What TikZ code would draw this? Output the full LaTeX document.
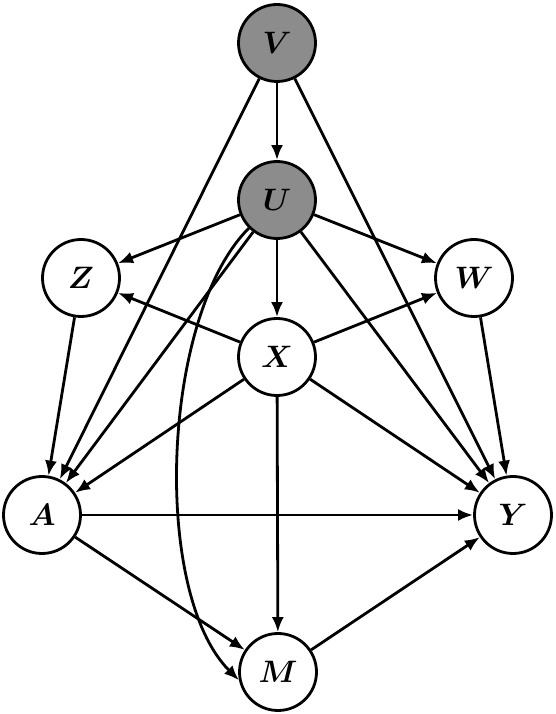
\documentclass[tikz,border=0pt]{standalone}
\usepackage{amsmath,bm}
\usepackage{graphicx}
\usetikzlibrary{arrows.meta}
\definecolor{latent}{RGB}{140,140,140}
\newcommand{\vlab}[1]{\scalebox{3.1}{$\bm{#1}$}}
\begin{document}
\begin{tikzpicture}[x=1pt,y=1pt,
  var/.style={circle,draw=black,line width=2.8pt,fill=white,minimum size=77pt,inner sep=0pt},
  hid/.style={var,fill=latent},
  edge/.style={line width=2.8pt,-{Latex[length=15pt,width=12pt]}}]
\useasboundingbox (0,0) rectangle (556,714);
\node[hid] (V) at (277,671) {\vlab{V}};
\node[hid] (U) at (277,514) {\vlab{U}};
\node[var] (Z) at (81,436) {\vlab{Z}};
\node[var] (W) at (474,436) {\vlab{W}};
\node[var] (X) at (277,357) {\vlab{X}};
\node[var] (A) at (42,199) {\vlab{A}};
\node[var] (Y) at (513,199) {\vlab{Y}};
\node[var] (M) at (278,42) {\vlab{M}};
\draw[edge] (V) -- (U);
\draw[edge] (V) -- (A);
\draw[edge] (V) -- (Y);
\draw[edge] (U) -- (Z);
\draw[edge] (U) -- (W);
\draw[edge] (U) -- (X);
\draw[edge] (U) -- (A);
\draw[edge] (U) -- (Y);
\draw[edge] (U) to[out=-135,in=135,looseness=0.7] (M.192);
\draw[edge] (X) -- (Z);
\draw[edge] (X) -- (W);
\draw[edge] (X) -- (A);
\draw[edge] (X) -- (Y);
\draw[edge] (X) -- (M);
\draw[edge] (Z) -- (A);
\draw[edge] (W) -- (Y);
\draw[edge] (A) -- (Y);
\draw[edge] (A) -- (M);
\draw[edge] (M) -- (Y);
\end{tikzpicture}
\end{document}
